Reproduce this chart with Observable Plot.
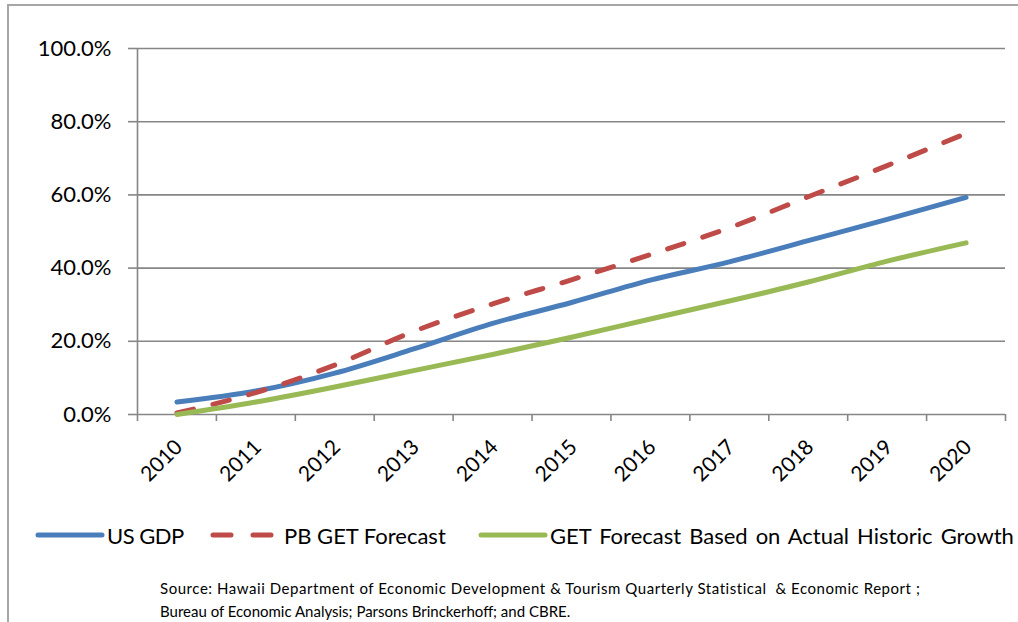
<!DOCTYPE html>
<html>
<head>
<meta charset="utf-8">
<script src="https://cdn.jsdelivr.net/npm/d3@7"></script>
<script src="https://cdn.jsdelivr.net/npm/@observablehq/plot@0.6"></script>
<style>
  html, body { margin: 0; padding: 0; background: #fff; }
  #wrap { position: relative; width: 1018px; height: 622px; overflow: hidden; font-family: Lato, "Open Sans", sans-serif; color: #000; }
  #frame { position: absolute; left: 7px; top: 4px; width: 1100px; height: 700px; border: 2px solid #a6a6a6; box-sizing: border-box; }
  #chart { position: absolute; left: 0; top: 0; }
  #legend { position: absolute; left: 0; top: 518px; height: 34px; width: 1018px; }
  .li { position: absolute; top: 0; height: 34px; display: flex; align-items: center; font-size: 22px; white-space: nowrap; }
  .li svg { display: block; }
  #source { position: absolute; left: 160px; top: 577px; font-size: 15px; line-height: 23px; white-space: nowrap; }
</style>
</head>
<body>
<div id="wrap">
  <div id="frame"></div>
  <div id="chart"></div>
  <div id="legend"></div>
  <div id="source"></div>
</div>
<script>
// ---- data ----
const years = [2010, 2011, 2012, 2013, 2014, 2015, 2016, 2017, 2018, 2019, 2020];
const usGdp   = [3.4, 6.4, 11.3, 17.9, 24.9, 30.6, 36.7, 41.7, 47.5, 53.3, 59.3];
const pbGet   = [0.4, 6.0, 13.5, 22.7, 30.2, 36.8, 43.7, 51.0, 59.5, 68.0, 76.8];
const getHist = [0.0, 3.4, 7.5, 12.0, 16.4, 21.1, 26.1, 31.0, 36.2, 41.9, 46.9];
const yTicks = [0, 20, 40, 60, 80, 100];
const seriesNames = ["US GDP", "PB GET Forecast", "GET Forecast Based on Actual Historic Growth"];
const seriesColors = ["#4a7ebb", "#be4b48", "#98b954"];
const sourceLines = [
  "Source: Hawaii Department of Economic Development & Tourism Quarterly Statistical  & Economic Report ;",
  "Bureau of Economic Analysis; Parsons Brinckerhoff; and CBRE."
];

// ---- build table ----
const seriesValues = [usGdp, pbGet, getHist];
const rows = seriesNames.map((name, s) => years.map((yr, i) => ({year: yr, value: seriesValues[s][i], series: name})));
const boundaries = [years[0] - 0.5, ...years.map(y => y + 0.5)];
const gridColor = "#868686";

const plot = Plot.plot({
  width: 1018,
  height: 500,
  marginLeft: 137,
  marginRight: 13,
  marginTop: 48,
  marginBottom: 86,
  style: {fontFamily: "Lato, 'Open Sans', sans-serif", background: "transparent", color: "#000"},
  x: {domain: [boundaries[0], boundaries[boundaries.length - 1]], label: null},
  y: {domain: [0, 100], label: null},
  marks: [
    Plot.gridY(yTicks.slice(1), {stroke: gridColor, strokeOpacity: 1, strokeWidth: 1.6}),
    Plot.ruleX([boundaries[0]], {stroke: gridColor, strokeWidth: 1.6}),
    Plot.ruleY([0], {stroke: gridColor, strokeWidth: 1.6}),
    Plot.axisY(yTicks, {tickSize: 9, tickPadding: 17, stroke: gridColor, strokeWidth: 1.6, fill: "#000", fontSize: 22,
      tickFormat: d => d.toFixed(1) + "%"}),
    Plot.axisX(boundaries, {tickSize: 7, stroke: gridColor, strokeWidth: 1.6, tickFormat: () => ""}),
    Plot.axisX(years, {tickSize: 0, tickPadding: 29, tickRotate: -45, fill: "#000", fontSize: 21, dx: 2, tickFormat: d => String(d)}),
    Plot.line(rows[0], {x: "year", y: "value", stroke: seriesColors[0], strokeWidth: 5, curve: "monotone-x", strokeLinecap: "round"}),
    Plot.line(rows[1], {x: "year", y: "value", stroke: seriesColors[1], strokeWidth: 5, curve: "monotone-x", strokeLinecap: "round", strokeDasharray: "17 20"}),
    Plot.line(rows[2], {x: "year", y: "value", stroke: seriesColors[2], strokeWidth: 5, curve: "monotone-x", strokeLinecap: "round"})
  ]
});
document.getElementById("chart").appendChild(plot);

// ---- legend ----
const legendLefts = [35, 210, 478];
const legend = document.getElementById("legend");
seriesNames.forEach((name, i) => {
  const item = document.createElement("div");
  item.className = "li";
  item.style.left = legendLefts[i] + "px";
  const dash = i === 1 ? ' stroke-dasharray="18 22"' : '';
  const w = i === 1 ? 64 : 70;
  const ws = i === 2 ? "word-spacing:2.4px;" : (i === 0 ? "letter-spacing:-0.5px;" : "");
  item.innerHTML = `<svg width="${w}" height="10"><line x1="3" y1="5" x2="${w - 3}" y2="5" stroke="${seriesColors[i]}" stroke-width="5" stroke-linecap="round"${dash}/></svg><span style="margin-left:${i === 1 ? 10 : 2}px;${ws}">${name}</span>`;
  legend.appendChild(item);
});

// ---- source ----
const src = document.getElementById("source");
sourceLines.forEach((t, i) => {
  const d = document.createElement("div");
  d.textContent = t;
  d.style.whiteSpace = "pre";
  if (i === 0) d.style.letterSpacing = "0.55px";
  src.appendChild(d);
});
</script>
</body>
</html>
